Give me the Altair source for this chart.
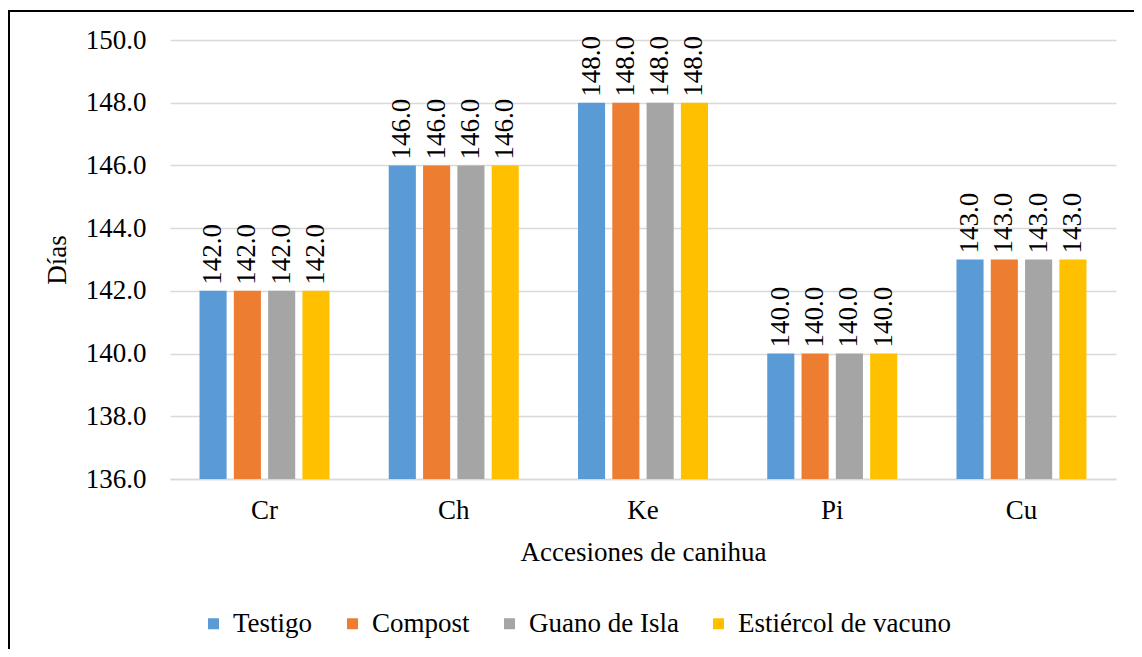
import altair as alt
import pandas as pd

categories = ["Cr", "Ch", "Ke", "Pi", "Cu"]
series = ["Testigo", "Compost", "Guano de Isla", "Estiércol de vacuno"]
testigo = [142.0, 146.0, 148.0, 140.0, 143.0]
compost = [142.0, 146.0, 148.0, 140.0, 143.0]
guano = [142.0, 146.0, 148.0, 140.0, 143.0]
estiercol = [142.0, 146.0, 148.0, 140.0, 143.0]
colors = ["#5B9BD5", "#ED7D31", "#A5A5A5", "#FFC000"]
y_ticks = [136, 138, 140, 142, 144, 146, 148, 150]

rows = []
for s, vals in zip(series, [testigo, compost, guano, estiercol]):
    for c, v in zip(categories, vals):
        rows.append({"Accesión": c, "Serie": s, "Días": v})
df = pd.DataFrame(rows)

FONT = "Liberation Serif"

base = alt.Chart(df).encode(
    x=alt.X("Accesión:N", sort=categories,
            scale=alt.Scale(paddingInner=0.313, paddingOuter=0.156),
            axis=alt.Axis(title="Accesiones de canihua", labelAngle=0, ticks=False,
                          domain=True, domainColor="#d9d9d9", domainWidth=1.5,
                          labelPadding=18, titlePadding=16, grid=False,
                          labelFont=FONT, titleFont=FONT, labelFontSize=27,
                          titleFontSize=27, labelColor="black", titleColor="black",
                          titleFontWeight="normal")),
    xOffset=alt.XOffset("Serie:N", sort=series,
                        scale=alt.Scale(paddingInner=0.21, paddingOuter=0)),
)

bars = base.mark_bar().encode(
    y=alt.Y("Días:Q", scale=alt.Scale(domain=[136, 150], zero=False, nice=False),
            axis=alt.Axis(title="Días", values=y_ticks, format=".1f", ticks=False,
                          domain=False, grid=True, gridColor="#d9d9d9", gridWidth=1.5,
                          labelPadding=24, titlePadding=14,
                          labelFont=FONT, titleFont=FONT, labelFontSize=27,
                          titleFontSize=27, labelColor="black", titleColor="black",
                          titleFontWeight="normal")),
    y2=alt.datum(136),
    color=alt.Color("Serie:N", sort=series,
                    scale=alt.Scale(domain=series, range=colors),
                    legend=alt.Legend(title=None, orient="none", direction="horizontal",
                                      legendX=30, legendY=570, symbolType="square",
                                      symbolSize=121, symbolStrokeWidth=0,
                                      labelOffset=6, columnPadding=26,
                                      labelFontSize=27, labelFont=FONT,
                                      labelColor="black", labelLimit=400)),
)

labels = base.mark_text(angle=270, align="left", baseline="middle", dx=6,
                        font=FONT, fontSize=27, color="black").encode(
    y=alt.Y("Días:Q"),
    text=alt.Text("Días:Q", format=".1f"),
)

frame = alt.Chart(pd.DataFrame({"f": [0]})).mark_rect(
    fill=None, stroke="black", strokeWidth=2).encode(
    x=alt.value(-161), x2=alt.value(1000), y=alt.value(-29), y2=alt.value(700))

chart = alt.layer(frame, bars, labels).properties(
    width=946, height=439,
    autosize=alt.AutoSizeParams(type="none"),
    padding={"left": 162, "top": 32, "right": 18, "bottom": 170},
).configure_view(stroke=None)

chart.save("out.html", embed_options={"renderer": "svg", "actions": False})
